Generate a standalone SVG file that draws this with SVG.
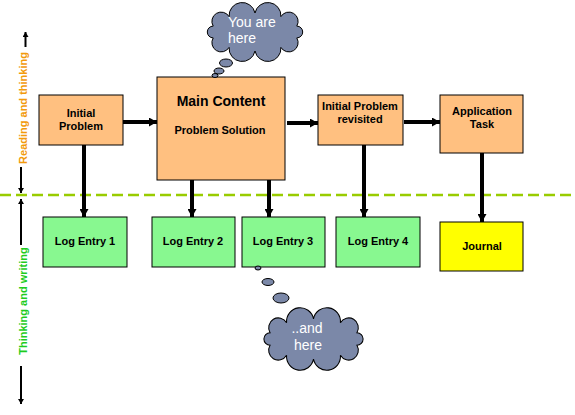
<svg xmlns="http://www.w3.org/2000/svg" width="575" height="415" viewBox="0 0 575 415">
<style>
  .box { stroke: #000; stroke-width: 1; }
  .peach { fill: #FFC080; }
  .green { fill: #88F890; }
  .yellow { fill: #FFFF00; }
  .lbl { font-family: "Liberation Sans", Arial, sans-serif; font-weight: bold; font-size: 11px; fill: #000; text-anchor: middle; }
  .big { font-size: 14px; }
  .cloud { fill: #7B88A8; stroke: #000; stroke-width: 1; }
  .ctext { font-family: "Liberation Sans", Arial, sans-serif; font-size: 14px; fill: #fff; }
  .conn { stroke: #000; stroke-width: 4; fill: none; marker-end: url(#ah); }
  .axis { stroke: #000; stroke-width: 2; fill: none; marker-end: url(#ahs); }
  .axtext { font-family: "Liberation Sans", Arial, sans-serif; font-weight: bold; font-size: 11px; text-anchor: middle; }
</style>
<defs>
  <marker id="ah" markerUnits="userSpaceOnUse" markerWidth="9" markerHeight="9" refX="8" refY="4.5" orient="auto">
    <path d="M0,0 L8,4.5 L0,9 z" fill="#000"/>
  </marker>
  <marker id="ahs" markerUnits="userSpaceOnUse" markerWidth="6" markerHeight="6" refX="5" refY="3" orient="auto">
    <path d="M0,0 L5,3 L0,6 z" fill="#000"/>
  </marker>
  <path id="cloudshape" d="M0,-19 A13.1,13.1 0 0,1 25.9,-15.4 A9.25,9.25 0 0,1 41.8,-5.9 A5.9,5.9 0 0,1 41.8,5.9 A9.25,9.25 0 0,1 25.9,15.4 A13.1,13.1 0 0,1 0,19 A13.1,13.1 0 0,1 -25.9,15.4 A9.25,9.25 0 0,1 -41.8,5.9 A5.9,5.9 0 0,1 -41.8,-5.9 A9.25,9.25 0 0,1 -25.9,-15.4 A13.1,13.1 0 0,1 0,-19 Z"/>
</defs>

<!-- divider -->
<line x1="0" y1="195" x2="575" y2="195" stroke="#99CC00" stroke-width="2.5" stroke-dasharray="11 5"/>

<!-- side axis -->
<g id="axis-reading">
  <line class="axis" x1="25.5" y1="47" x2="25.5" y2="32"/>
  <text class="axtext" fill="#F29A0C" transform="translate(27,108) rotate(-90)">Reading and thinking</text>
  <line class="axis" x1="21" y1="167" x2="21" y2="193"/>
</g>
<g id="axis-writing">
  <line class="axis" x1="21" y1="245" x2="21" y2="199"/>
  <text class="axtext" fill="#1ECC1E" transform="translate(27,301) rotate(-90)">Thinking and writing</text>
  <line class="axis" x1="21" y1="366" x2="21" y2="404"/>
</g>

<!-- connectors -->
<g id="connectors">
  <line class="conn" x1="123" y1="122" x2="157" y2="122"/>
  <line class="conn" x1="287" y1="123" x2="318" y2="123"/>
  <line class="conn" x1="404" y1="122" x2="440" y2="122"/>
  <line class="conn" x1="84" y1="145" x2="84" y2="217"/>
  <line class="conn" x1="192" y1="176" x2="192" y2="217"/>
  <line class="conn" x1="269" y1="176" x2="269" y2="217"/>
  <line class="conn" x1="364" y1="145" x2="364" y2="217"/>
  <line class="conn" x1="482" y1="153" x2="482" y2="222"/>
</g>

<g id="initial-problem">
  <rect class="box peach" x="39" y="95" width="84" height="50"/>
  <text class="lbl" x="81" y="117">Initial</text>
  <text class="lbl" x="81" y="130">Problem</text>
</g>
<g id="main-content">
  <rect class="box peach" x="157" y="77" width="128" height="103"/>
  <text class="lbl big" x="221" y="106">Main Content</text>
  <text class="lbl" x="220" y="134">Problem Solution</text>
</g>
<g id="initial-problem-revisited">
  <rect class="box peach" x="318" y="95" width="85" height="50"/>
  <text class="lbl" x="360" y="110">Initial Problem</text>
  <text class="lbl" x="360" y="123">revisited</text>
</g>
<g id="application-task">
  <rect class="box peach" x="440" y="95" width="83" height="58"/>
  <text class="lbl" x="482" y="115">Application</text>
  <text class="lbl" x="482" y="128">Task</text>
</g>

<g id="log-entry-1">
  <rect class="box green" x="43" y="217" width="84" height="50"/>
  <text class="lbl" x="85" y="245">Log Entry 1</text>
</g>
<g id="log-entry-2">
  <rect class="box green" x="152" y="217" width="83" height="50"/>
  <text class="lbl" x="193" y="245">Log Entry 2</text>
</g>
<g id="log-entry-3">
  <rect class="box green" x="242" y="217" width="83" height="50"/>
  <text class="lbl" x="283" y="245">Log Entry 3</text>
</g>
<g id="log-entry-4">
  <rect class="box green" x="336" y="217" width="84" height="50"/>
  <text class="lbl" x="378" y="245">Log Entry 4</text>
</g>
<g id="journal">
  <rect class="box yellow" x="440" y="222" width="83" height="49"/>
  <text class="lbl" x="482" y="250">Journal</text>
</g>

<g id="cloud-top">
  <ellipse class="cloud" cx="215" cy="75.5" rx="3" ry="2"/>
  <ellipse class="cloud" cx="219" cy="71" rx="5" ry="3"/>
  <ellipse class="cloud" cx="226" cy="63" rx="6.5" ry="4"/>
  <use href="#cloudshape" class="cloud" transform="translate(255,32)"/>
  <text class="ctext" x="228" y="27">You are</text>
  <text class="ctext" x="228" y="43">here</text>
</g>
<g id="cloud-bottom">
  <ellipse class="cloud" cx="258" cy="268" rx="3" ry="2"/>
  <ellipse class="cloud" cx="268" cy="282" rx="6" ry="3.5"/>
  <ellipse class="cloud" cx="281" cy="298" rx="8" ry="5"/>
  <use href="#cloudshape" class="cloud" transform="translate(313.5,339) scale(1.04,1.06)"/>
  <text class="ctext" x="307" y="333" text-anchor="middle">..and</text>
  <text class="ctext" x="308" y="350" text-anchor="middle">here</text>
</g>
</svg>
